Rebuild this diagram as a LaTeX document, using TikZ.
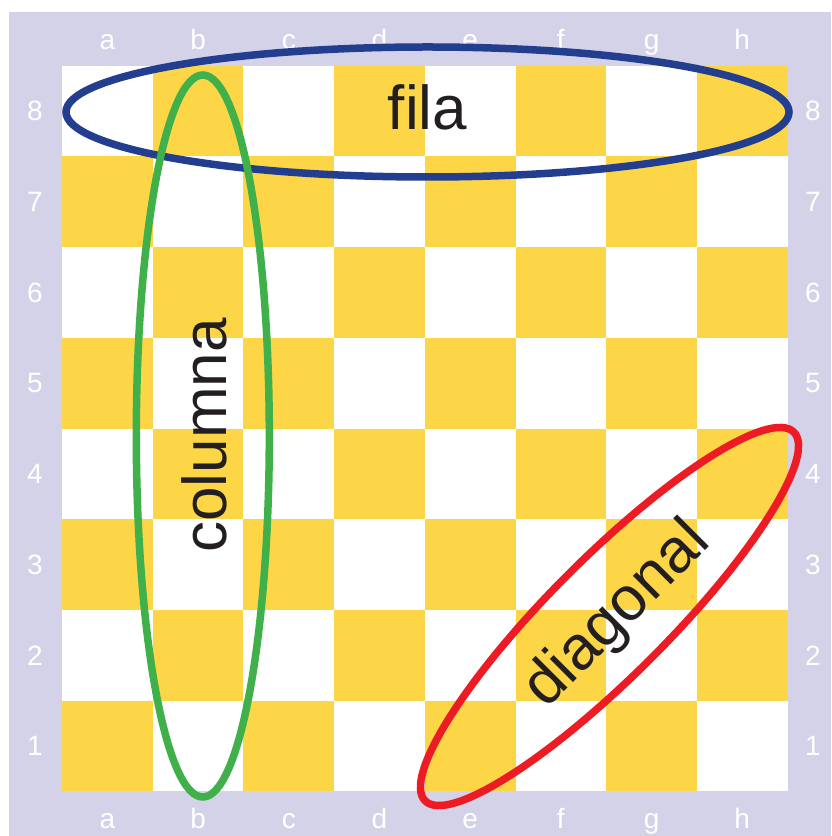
\documentclass[tikz,border=0pt]{standalone}
\usepackage{fontspec}
\setmainfont{Liberation Sans}
\definecolor{boardyellow}{RGB}{253,214,72}
\definecolor{framelav}{RGB}{212,210,232}
\definecolor{ringblue}{RGB}{36,62,143}
\definecolor{ringgreen}{RGB}{64,176,74}
\definecolor{ringred}{RGB}{237,28,36}
\definecolor{inkdark}{RGB}{35,31,32}
\tikzset{
  coordlabel/.style={text=white,font=\fontsize{28}{30}\selectfont,inner sep=0pt},
  bigword/.style={text=inkdark,font=\fontsize{62}{70}\selectfont,inner sep=0pt,anchor=base},
  ring/.style={line width=7.5pt},
}
\begin{document}
\begin{tikzpicture}[x=1pt,y=1pt]
\useasboundingbox (0,0) rectangle (831,836);
% frame
\fill[framelav] (9,0) rectangle (831,824);
% board
\def\sq{90.7}
\fill[white] (62,44.6) rectangle ({62+8*\sq},{44.6+8*\sq});
\foreach \i in {0,...,7}{
  \foreach \j in {0,...,7}{
    \pgfmathtruncatemacro{\sqparity}{mod(\i+\j,2)}
    \ifnum\sqparity=0
      \fill[boardyellow] ({62+\i*\sq},{44.6+\j*\sq}) rectangle ++(\sq,\sq);
    \fi
  }
}
% file labels
\foreach \f [count=\k from 0] in {a,b,c,d,e,f,g,h}{
  \node[coordlabel,anchor=base] (top\f) at ({62+(\k+0.5)*\sq},786) {\f};
  \node[coordlabel,anchor=base] (bot\f) at ({62+(\k+0.5)*\sq},8) {\f};
}
% rank labels
\foreach \r [count=\k from 0] in {1,...,8}{
  \node[coordlabel] (left\r) at (35,{44.6+(\k+0.5)*\sq}) {\r};
  \node[coordlabel] (right\r) at (813,{44.6+(\k+0.5)*\sq}) {\r};
}
% rings
\draw[ring,ringblue] (427.5,724) ellipse [x radius=361.5pt, y radius=65pt];
\draw[ring,ringgreen] (202.8,400) ellipse [x radius=66.5pt, y radius=361pt];
\draw[ring,ringred,rotate around={45:(609.5,219.5)}] (609.5,219.5) ellipse [x radius=260.7pt, y radius=59pt];
% words
\node[bigword] (fila) at (427.5,706) {fila};
\node[bigword,rotate=90] (columna) at (226.5,400.5) {columna};
\node[bigword,rotate=45] (diagonal) at (629,209) {diagonal};
\end{tikzpicture}
\end{document}
